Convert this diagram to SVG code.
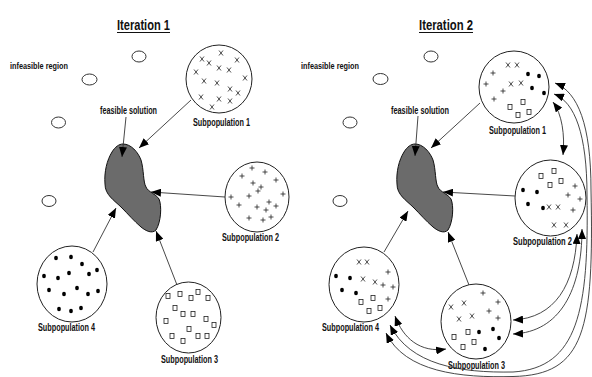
<svg xmlns="http://www.w3.org/2000/svg" xmlns:xlink="http://www.w3.org/1999/xlink" width="592" height="377" viewBox="0 0 592 377">
<style>
.t{font-family:"Liberation Sans",Arial,sans-serif;font-weight:bold;fill:#111}
.lbl{font-size:10px}
.ttl{font-size:14px}
.circ{fill:#fff;stroke:#222;stroke-width:1}
.ell{fill:#fff;stroke:#333;stroke-width:1}
.blob{fill:#6b6b6b;stroke:#111;stroke-width:1}
.con{fill:none;stroke:#333;stroke-width:0.9}
.mk{fill:none;stroke:#222;stroke-width:0.8}
.dot{fill:#000}
</style>
<defs>
<marker id="ah" viewBox="0 0 10 8" refX="10" refY="4" markerWidth="10" markerHeight="8" markerUnits="userSpaceOnUse" orient="auto-start-reverse"><path d="M0,0 L10,4 L0,8 Z" fill="#000"/></marker>
<path id="mx" class="mk" d="M-2,-2.5 L2,2.5 M2,-2.5 L-2,2.5"/>
<path id="mp" class="mk" d="M-2.5,0 L2.5,0 M0,-2.5 L0,2.5"/>
<rect id="ms" class="mk" x="-2" y="-2.5" width="4" height="5"/>
<ellipse id="md" class="dot" rx="1.9" ry="2.3"/>
<path id="blobshape" class="blob" d="M123,144 C131,144 138,152 141,160 C144,170 143,182 146,187 C148,192 156,194 159,199 C162,206 161,222 156,230 C152,234 146,231 141,227 C134,221 128,214 122,208 C114,200 105,195 105,184 C104,172 107,160 112,152 C115,147 119,144 123,144 Z"/>
</defs>

<!-- ===== Iteration 1 ===== -->
<g id="title1">
<text class="t ttl" x="117" y="30" textLength="53" lengthAdjust="spacingAndGlyphs">Iteration 1</text>
<line x1="117" y1="32.5" x2="170" y2="32.5" stroke="#111" stroke-width="1"/>
</g>
<g id="infeasible1">
<text class="t lbl" x="10" y="68.5" font-size="9" textLength="58" lengthAdjust="spacingAndGlyphs" style="font-size:9.5px">infeasible region</text>
<ellipse class="ell" cx="139" cy="56.5" rx="7" ry="5.5"/>
<ellipse class="ell" cx="89.5" cy="79.5" rx="7.5" ry="5.5"/>
<ellipse class="ell" cx="58.5" cy="122.5" rx="7" ry="5.5"/>
<ellipse class="ell" cx="49" cy="201" rx="7" ry="5.5"/>
</g>
<g id="feasible1">
<use href="#blobshape"/>
<text class="t lbl" x="100" y="113.5" textLength="57" lengthAdjust="spacingAndGlyphs">feasible solution</text>
</g>
<g id="sub1_1">
<ellipse class="circ" cx="219" cy="79" rx="33" ry="34"/>
<use href="#mx" x="202" y="59"/><use href="#mx" x="209" y="63"/><use href="#mx" x="221" y="53"/><use href="#mx" x="237" y="60"/>
<use href="#mx" x="196" y="72"/><use href="#mx" x="219" y="68"/><use href="#mx" x="229" y="70"/><use href="#mx" x="245" y="78"/>
<use href="#mx" x="204" y="81"/><use href="#mx" x="217" y="83"/><use href="#mx" x="230" y="89"/><use href="#mx" x="238" y="93"/>
<use href="#mx" x="201" y="97"/><use href="#mx" x="219" y="99"/><use href="#mx" x="230" y="101"/><use href="#mx" x="212" y="107"/>
<text class="t lbl" x="193" y="126" textLength="57" lengthAdjust="spacingAndGlyphs">Subpopulation 1</text>
</g>
<g id="sub2_1">
<ellipse class="circ" cx="257" cy="197" rx="32" ry="35"/>
<use href="#mp" x="252" y="168"/><use href="#mp" x="265" y="172"/><use href="#mp" x="242" y="176"/><use href="#mp" x="253" y="183"/>
<use href="#mp" x="261" y="187"/><use href="#mp" x="276" y="180"/><use href="#mp" x="231" y="197"/><use href="#mp" x="249" y="196"/>
<use href="#mp" x="258" y="191"/><use href="#mp" x="269" y="202"/><use href="#mp" x="283" y="194"/><use href="#mp" x="239" y="205"/>
<use href="#mp" x="257" y="207"/><use href="#mp" x="266" y="210"/><use href="#mp" x="276" y="206"/><use href="#mp" x="249" y="218"/>
<use href="#mp" x="263" y="220"/><use href="#mp" x="271" y="217"/>
<text class="t lbl" x="222" y="241" textLength="57" lengthAdjust="spacingAndGlyphs">Subpopulation 2</text>
</g>
<g id="sub4_1">
<ellipse class="circ" cx="72" cy="284" rx="35" ry="38"/>
<use href="#md" x="56" y="258"/><use href="#md" x="71" y="257"/><use href="#md" x="82" y="264"/><use href="#md" x="44" y="276"/>
<use href="#md" x="58" y="278"/><use href="#md" x="69" y="273"/><use href="#md" x="89" y="274"/><use href="#md" x="97" y="270"/>
<use href="#md" x="49" y="290"/><use href="#md" x="64" y="294"/><use href="#md" x="77" y="288"/><use href="#md" x="88" y="294"/>
<use href="#md" x="98" y="291"/><use href="#md" x="59" y="309"/><use href="#md" x="71" y="311"/><use href="#md" x="81" y="308"/>
<text class="t lbl" x="38" y="331" textLength="57" lengthAdjust="spacingAndGlyphs">Subpopulation 4</text>
</g>
<g id="sub3_1">
<ellipse class="circ" cx="188.5" cy="317.5" rx="32.5" ry="35.5"/>
<use href="#ms" x="168" y="296"/><use href="#ms" x="180" y="294"/><use href="#ms" x="191" y="298"/><use href="#ms" x="198" y="292"/>
<use href="#ms" x="208" y="298"/><use href="#ms" x="175" y="308"/><use href="#ms" x="183" y="314"/><use href="#ms" x="193" y="314"/>
<use href="#ms" x="166" y="321"/><use href="#ms" x="206" y="319"/><use href="#ms" x="214" y="325"/><use href="#ms" x="189" y="329"/>
<use href="#ms" x="172" y="336"/><use href="#ms" x="198" y="336"/><use href="#ms" x="207" y="336"/><use href="#ms" x="183" y="341"/>
<text class="t lbl" x="161" y="362.5" textLength="57" lengthAdjust="spacingAndGlyphs">Subpopulation 3</text>
</g>

<!-- ===== Iteration 2 ===== -->
<g id="title2">
<text class="t ttl" x="419" y="30" textLength="54" lengthAdjust="spacingAndGlyphs">Iteration 2</text>
<line x1="419" y1="32.5" x2="473" y2="32.5" stroke="#111" stroke-width="1"/>
</g>
<g id="infeasible2">
<text class="t lbl" x="301" y="68.5" textLength="58" lengthAdjust="spacingAndGlyphs" style="font-size:9.5px">infeasible region</text>
<ellipse class="ell" cx="431" cy="56.5" rx="7" ry="5.5"/>
<ellipse class="ell" cx="380.5" cy="79" rx="7.5" ry="5.5"/>
<ellipse class="ell" cx="350" cy="122.5" rx="7" ry="5.5"/>
<ellipse class="ell" cx="340" cy="201" rx="7" ry="5.5"/>
</g>
<g id="feasible2">
<use href="#blobshape" transform="translate(292,0)"/>
<text class="t lbl" x="391" y="113.5" textLength="58" lengthAdjust="spacingAndGlyphs">feasible solution</text>
</g>
<g id="sub1_2">
<ellipse class="circ" cx="514" cy="87" rx="35" ry="36"/>
<use href="#mp" x="493" y="73"/><use href="#mx" x="508" y="65"/><use href="#mx" x="517" y="65"/><use href="#md" x="528" y="74"/>
<use href="#md" x="539" y="76"/><use href="#mp" x="486" y="84"/><use href="#mp" x="503" y="91"/><use href="#mx" x="511" y="84"/>
<use href="#mx" x="521" y="83"/><use href="#md" x="532" y="88"/><use href="#md" x="544" y="93"/><use href="#mp" x="494" y="99"/>
<use href="#ms" x="523" y="102"/><use href="#ms" x="510" y="107"/><use href="#ms" x="518" y="115"/><use href="#ms" x="529" y="112"/>
<text class="t lbl" x="489" y="134" textLength="57" lengthAdjust="spacingAndGlyphs">Subpopulation 1</text>
</g>
<g id="sub2_2">
<ellipse class="circ" cx="550.5" cy="198" rx="35.5" ry="38"/>
<use href="#ms" x="541" y="176"/><use href="#ms" x="554" y="171"/><use href="#ms" x="550" y="185"/><use href="#ms" x="561" y="181"/>
<use href="#mp" x="575" y="186"/><use href="#mp" x="568" y="195"/><use href="#mp" x="580" y="199"/><use href="#mp" x="573" y="210"/>
<use href="#md" x="523" y="190"/><use href="#md" x="537" y="192"/><use href="#md" x="528" y="204"/><use href="#md" x="543" y="208"/>
<use href="#mx" x="549" y="207"/><use href="#mx" x="558" y="207"/><use href="#mx" x="554" y="225"/><use href="#mx" x="566" y="225"/>
<text class="t lbl" x="513" y="245" textLength="59" lengthAdjust="spacingAndGlyphs">Subpopulation 2</text>
</g>
<g id="sub4_2">
<ellipse class="circ" cx="364" cy="284.5" rx="35" ry="37.5"/>
<use href="#mx" x="359" y="262"/><use href="#mx" x="367" y="262"/><use href="#mp" x="388" y="272"/><use href="#md" x="336" y="276"/>
<use href="#md" x="350" y="278"/><use href="#mx" x="363" y="279"/><use href="#mx" x="375" y="282"/><use href="#mp" x="383" y="285"/>
<use href="#mp" x="393" y="287"/><use href="#md" x="342" y="290"/><use href="#md" x="356" y="293"/><use href="#ms" x="361" y="302"/>
<use href="#ms" x="373" y="298"/><use href="#mp" x="388" y="299"/><use href="#ms" x="369" y="311"/><use href="#ms" x="380" y="308"/>
<text class="t lbl" x="322" y="331" textLength="57" lengthAdjust="spacingAndGlyphs">Subpopulation 4</text>
</g>
<g id="sub3_2">
<ellipse class="circ" cx="476" cy="321.5" rx="35" ry="37.5"/>
<use href="#mp" x="483" y="293"/><use href="#mp" x="498" y="302"/><use href="#mx" x="451" y="307"/><use href="#mx" x="464" y="303"/>
<use href="#mp" x="489" y="311"/><use href="#mp" x="498" y="318"/><use href="#mx" x="459" y="319"/><use href="#mx" x="472" y="316"/>
<use href="#ms" x="468" y="332"/><use href="#md" x="479" y="332"/><use href="#md" x="493" y="329"/><use href="#ms" x="454" y="337"/>
<use href="#ms" x="474" y="342"/><use href="#md" x="499" y="338"/><use href="#ms" x="463" y="347"/><use href="#md" x="485" y="349"/>
<text class="t lbl" x="448" y="368.5" textLength="57" lengthAdjust="spacingAndGlyphs">Subpopulation 3</text>
</g>

<g id="connectors">
<!-- iteration 1 -->
<path class="con" marker-end="url(#ah)" d="M126,117 L122,157"/>
<path class="con" marker-end="url(#ah)" d="M191,100 L139,148"/>
<path class="con" marker-end="url(#ah)" d="M225,197 L151,192"/>
<path class="con" marker-end="url(#ah)" d="M93,252 L116,208"/>
<path class="con" marker-end="url(#ah)" d="M177,285 L156,231"/>
<!-- iteration 2 -->
<path class="con" marker-end="url(#ah)" d="M418,116 L415,156"/>
<path class="con" marker-end="url(#ah)" d="M480,103 L431,148"/>
<path class="con" marker-end="url(#ah)" d="M515,196 L443,192"/>
<path class="con" marker-end="url(#ah)" d="M384,252 L408,211"/>
<path class="con" marker-end="url(#ah)" d="M469,285 L448,232"/>
<!-- migration -->
<path class="con" marker-start="url(#ah)" marker-end="url(#ah)" d="M553,102 C562,114 565,135 563,155"/>
<path class="con" marker-start="url(#ah)" marker-end="url(#ah)" d="M577,234 C575,285 555,318 513,320"/>
<path class="con" marker-start="url(#ah)" marker-end="url(#ah)" d="M582,229 C582,290 560,332 513,334"/>
<path class="con" marker-start="url(#ah)" marker-end="url(#ah)" d="M395,316 C403,338 420,353 446,349"/>
<path class="con" marker-start="url(#ah)" marker-end="url(#ah)" d="M554,94 C575,102 587,135 587,195 C589,310 578,368 513,372 C460,373 410,365 390,325"/>
<path class="con" marker-start="url(#ah)" marker-end="url(#ah)" d="M555,83 C578,92 591,125 591,190 C594,330 585,375 513,376.5 C460,378 405,372 386,333"/>
</g>
</svg>
